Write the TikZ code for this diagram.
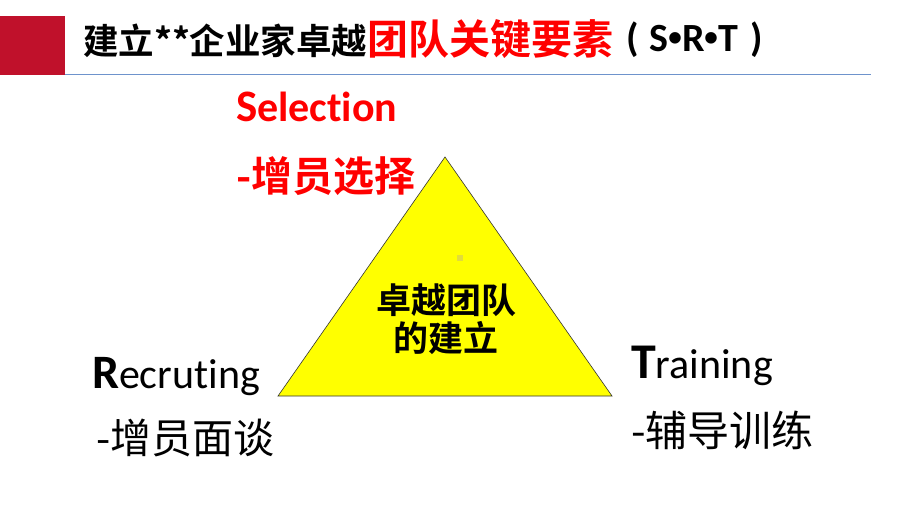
\documentclass[tikz,border=0pt]{standalone}
\usepackage{fontspec}
\setmainfont{Carlito}[Ligatures=NoCommon]
\newfontfamily\cjk{Noto Sans CJK SC}
\newfontfamily\cjkb{Noto Sans CJK SC Bold}
\newfontfamily\bulletfont{Liberation Sans Bold}
\newfontfamily\latinb{Carlito Bold}[Ligatures=NoCommon]
\definecolor{barred}{HTML}{C0112B}
\definecolor{linebl}{HTML}{6E93CC}
\definecolor{triy}{HTML}{FFFF00}
\definecolor{dotc}{HTML}{E2DC3A}
\newcommand{\srtdot}{{\bulletfont •}}
\tikzset{
  lbl/.style={inner sep=0pt, outer sep=0pt},
}
\begin{document}
\begin{tikzpicture}[x=1pt,y=-1pt]
\useasboundingbox[fill=white] (0,0) rectangle (920,518);
% header
\fill[barred] (0,16) rectangle (65,75);
\draw[linebl, line width=1pt] (65,74.5) -- (871,74.5);
\node[lbl, anchor=west] (title) at (83,39) {\cjkb\fontsize{35.5}{37}\selectfont 建立**企业家卓越{\color{red}\fontsize{41}{43}\selectfont 团队关键要素}};
\node[lbl, anchor=west] (srt) at (626,40) {\latinb\fontsize{40}{42}\selectfont (\hspace{11pt}S\srtdot R\srtdot T\hspace{12pt})};
% triangle
\coordinate (A) at (445,157);
\coordinate (B) at (278,396);
\coordinate (C) at (612,396);
\draw[fill=triy, draw=black!80, line width=0.6pt] (A) -- (B) -- (C) -- cycle;
\fill[dotc] (457,255) rectangle (463,261);
\node[lbl] (c1) at (446,300) {\cjkb\fontsize{35}{37}\selectfont 卓越团队};
\node[lbl] (c2) at (446,338) {\cjkb\fontsize{35}{37}\selectfont 的建立};
% Selection
\node[lbl, anchor=base west, text=red] (sel) at (236,122) {\latinb{\fontsize{45}{46}\selectfont S}{\fontsize{42}{44}\selectfont election}};
\node[lbl, anchor=west, text=red] (selc) at (236,176) {\cjkb\fontsize{41}{43}\selectfont -增员选择};
% Recruting
\node[lbl, anchor=base west] (rec) at (92,388) {{\latinb\fontsize{48}{50}\selectfont R}{\fontsize{42}{44}\selectfont ecruting}};
\node[lbl, anchor=west] (recc) at (96,438) {\cjk\fontsize{41}{43}\selectfont -增员面谈};
% Training
\node[lbl, anchor=base west] (tra) at (631,378) {{\latinb\fontsize{50}{52}\selectfont T}{\fontsize{42}{44}\selectfont raining}};
\node[lbl, anchor=west] (trac) at (631,430) {\cjk\fontsize{42}{44}\selectfont -辅导训练};
\end{tikzpicture}
\end{document}
